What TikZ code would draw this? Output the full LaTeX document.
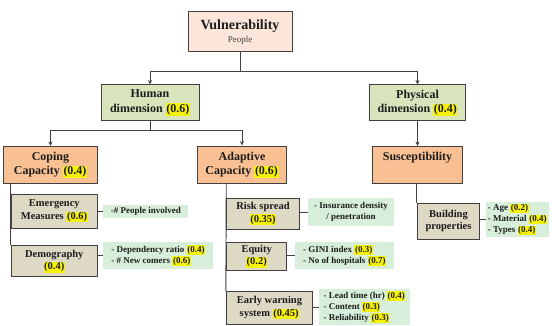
\documentclass[tikz,border=0pt]{standalone}
\usepackage{fontspec}
\setmainfont{Liberation Serif}
\usetikzlibrary{arrows.meta}
\definecolor{peach}{HTML}{FCE6DA}
\definecolor{dimgreen}{HTML}{D8E4BC}
\definecolor{capor}{HTML}{F9C193}
\definecolor{tanbox}{HTML}{DDD9C5}
\definecolor{mint}{HTML}{D7EEDB}
\definecolor{hly}{HTML}{F6F20A}
\definecolor{bordc}{HTML}{404040}
\definecolor{txt}{HTML}{1C1C1C}
\newcommand\hlt[1]{{\setlength{\fboxsep}{0.6pt}\colorbox{hly}{#1}}}
\newcommand\fsz[2]{\fontsize{#1}{#2}\selectfont}
\begin{document}
\begin{tikzpicture}[x=1pt,y=-1pt,
  box/.style={draw=bordc,line width=0.9pt,inner sep=0pt,align=center,text=txt,font=\bfseries},
  topbox/.style={box,fill=peach},
  dimbox/.style={box,fill=dimgreen,font=\bfseries\fsz{12}{14.5}},
  capbox/.style={box,fill=capor,font=\bfseries\fsz{12}{14.5}},
  subbox/.style={box,fill=tanbox,font=\bfseries\fsz{10.5}{12.5}},
  lbl/.style={fill=mint,draw=none,inner sep=0pt,text=txt,font=\bfseries\fsz{9}{11}},
  conn/.style={draw=bordc,line width=0.9pt},
  arr/.style={conn,-{Stealth[length=4.5pt,width=4pt]}}]
\useasboundingbox (0,0) rectangle (552,326);

% main boxes
\node[topbox,minimum width=104pt,minimum height=40pt] (vul) at (240,31.7)
  {{\fsz{14}{15}Vulnerability}\\[1pt]{\fsz{9}{10}\mdseries\color{black!75}People}};
\node[dimbox,minimum width=98pt,minimum height=35.7pt] (hum) at (150,102.8)
  {Human\\dimension \hlt{(0.6)}};
\node[dimbox,minimum width=96pt,minimum height=35.7pt] (phy) at (417.5,102.8)
  {Physical\\dimension \hlt{(0.4)}};
\node[capbox,minimum width=94.4pt,minimum height=37pt] (cop) at (50.5,165)
  {Coping\\Capacity \hlt{(0.4)}};
\node[capbox,minimum width=89.4pt,minimum height=37.3pt] (ada) at (242,164.7)
  {Adaptive\\Capacity \hlt{(0.6)}};
\node[capbox,minimum width=89.4pt,minimum height=37pt,text height=9pt,text depth=17pt] (sus) at (417.5,165)
  {Susceptibility};

% sub boxes
\node[subbox,minimum width=86.7pt,minimum height=34.3pt] (eme) at (54.3,211.2)
  {Emergency\\Measures \hlt{(0.6)}};
\node[subbox,minimum width=86.7pt,minimum height=31pt] (dem) at (54.3,261.2)
  {Demography\\\hlt{(0.4)}};
\node[subbox,minimum width=72.6pt,minimum height=30.8pt] (ris) at (263,213.9)
  {Risk spread\\\hlt{(0.35)}};
\node[subbox,minimum width=60pt,minimum height=27.7pt] (equ) at (256.7,256.2)
  {Equity\\\hlt{(0.2)}};
\node[subbox,minimum width=86.4pt,minimum height=32.6pt] (ear) at (269.5,308)
  {Early warning\\system \hlt{(0.45)}};
\node[subbox,minimum width=62.5pt,minimum height=35.7pt] (bui) at (448.5,221.2)
  {Building\\properties};

% green labels
\node[lbl,minimum width=85pt,minimum height=13.3pt] (emeg) at (145.8,211.3)
  {-\# People involved};
\node[lbl,minimum width=110pt,minimum height=26.4pt,align=left] (demg) at (158.3,255.5)
  {- Dependency ratio \hlt{(0.4)}\\- \# New comers \hlt{(0.6)}};
\node[lbl,minimum width=86.6pt,minimum height=27.7pt,align=center] (risg) at (351,212.2)
  {- Insurance density\\/ penetration};
\node[lbl,minimum width=99.3pt,minimum height=26.7pt,align=left] (equg) at (344.7,255.5)
  {- GINI index \hlt{(0.3)}\\- No of hospitals \hlt{(0.7)}};
\node[lbl,minimum width=91pt,minimum height=36pt,align=left] (earg) at (364.5,307)
  {- Lead time (hr) \hlt{(0.4)}\\- Content \hlt{(0.3)}\\- Reliability \hlt{(0.3)}};
\node[lbl,minimum width=63.5pt,minimum height=35pt,align=left] (buig) at (517.5,219.5)
  {- Age \hlt{(0.2)}\\- Material \hlt{(0.4)}\\- Types \hlt{(0.4)}};

% tree connectors
\coordinate (j1) at (240,71.5);
\coordinate (j2) at (150,130.5);
\draw[arr] (vul.south) -- (vul.south |- j1) -| (hum.north);
\draw[arr] (vul.south |- j1) -| (phy.north);
\draw[arr] (hum.south) -- (hum.south |- j2) -| (cop.north);
\draw[arr] (hum.south |- j2) -| (ada.north);
\draw[arr] (phy.south) -- (sus.north);

% vertical trunks
\draw[conn] (cop.south -| eme.west) -- (dem.north west);
\draw[conn] (ada.south -| ris.west) -- (ear.north west);
\draw[conn] (sus.south -| bui.west) -- (bui.north west);

% box-to-label connectors
\draw[conn] (eme.east |- emeg.west) -- (emeg.west);
\draw[conn] (dem.east |- demg.west) -- (demg.west);
\draw[conn] (ris.east |- risg.west) -- (risg.west);
\draw[conn] (equ.east |- equg.west) -- (equg.west);
\draw[conn] (ear.east |- earg.west) -- (earg.west);
\draw[conn] (bui.east |- buig.west) -- (buig.west);
\end{tikzpicture}
\end{document}
